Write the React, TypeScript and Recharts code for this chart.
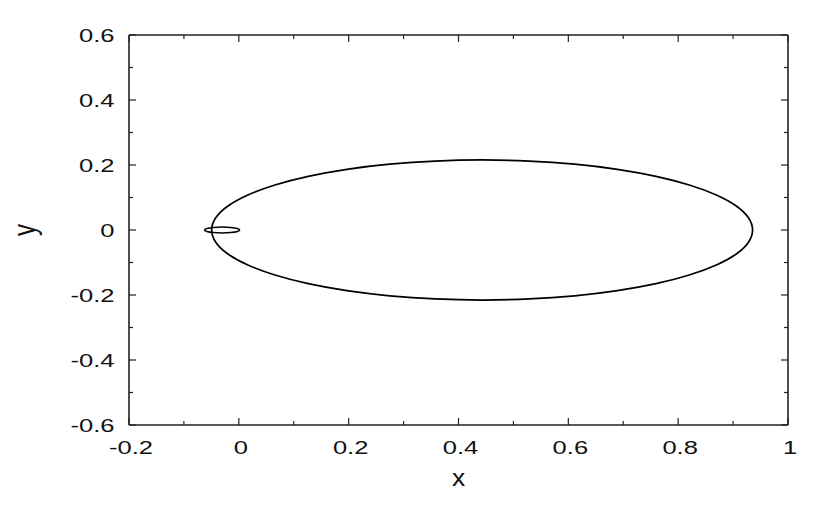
import { LineChart, Line, XAxis, YAxis } from 'recharts';

// large orbit
const orbitX = [
    0.938, 0.9305, 0.9082, 0.8717, 0.8222, 0.7612, 0.6905, 0.6123, 0.5289, 0.443, 0.3571, 0.2737,
    0.1955, 0.1248, 0.0638, 0.0143, -0.0222, -0.0445, -0.052, -0.0445, -0.0222, 0.0143, 0.0638, 0.1248,
    0.1955, 0.2737, 0.3571, 0.443, 0.5289, 0.6123, 0.6905, 0.7612, 0.8222, 0.8717, 0.9082, 0.9305,
];
const orbitY = [
    0, 0.0376, 0.0741, 0.1083, 0.1392, 0.1659, 0.1876, 0.2035, 0.2133, 0.2166, 0.2133, 0.2035,
    0.1876, 0.1659, 0.1392, 0.1083, 0.0741, 0.0376, 0, -0.0376, -0.0741, -0.1083, -0.1392, -0.1659,
    -0.1876, -0.2035, -0.2133, -0.2166, -0.2133, -0.2035, -0.1876, -0.1659, -0.1392, -0.1083, -0.0741, -0.0376,
];

// small loop near the origin
const loopX = [0.003, -0.0015, -0.0138, -0.0305, -0.0473, -0.0595, -0.064, -0.0595, -0.0473, -0.0305, -0.0138, -0.0015];
const loopY = [0, 0.0048, 0.0083, 0.0096, 0.0083, 0.0048, 0, -0.0048, -0.0083, -0.0096, -0.0083, -0.0048];

const xMajor = [-0.2, 0, 0.2, 0.4, 0.6, 0.8, 1];
const xMinor = [-0.1, 0.1, 0.3, 0.5, 0.7, 0.9];
const yMajor = [-0.6, -0.4, -0.2, 0, 0.2, 0.4, 0.6];
const yMinor = [-0.5, -0.3, -0.1, 0.1, 0.3, 0.5];

const orbit = orbitX.map((x, i) => ({ x, y: orbitY[i] }));
const loop = loopX.map((x, i) => ({ x, y: loopY[i] }));

const FONT = '"Liberation Sans", Arial, sans-serif';
const FRAME = '#222';
const MAJOR = 7;
const MINOR = 4;
const NO_TICK = 0.001; // recharts swaps a 0 tickSize for its default

const tickLen = (v: number, majors: number[]) => (majors.includes(v) ? MAJOR : MINOR);

const BottomTick = ({ x, y, payload }: any) => {
    const v = payload.value;
    const major = xMajor.includes(v);
    return (
        <g>
            <line x1={x} x2={x} y1={y} y2={y - tickLen(v, xMajor)} stroke={FRAME} strokeWidth={1.2} />
            {major && (
                <text transform={`translate(${x + 2},${y + 28.5}) scale(1.42,1)`} textAnchor="middle" fontSize={18} fontFamily={FONT} fill="#111">
                    {String(v)}
                </text>
            )}
        </g>
    );
};

const TopTick = ({ x, y, payload }: any) => (
    <line x1={x} x2={x} y1={y} y2={y + tickLen(payload.value, xMajor)} stroke={FRAME} strokeWidth={1.2} />
);

const LeftTick = ({ x, y, payload }: any) => {
    const v = payload.value;
    const major = yMajor.includes(v);
    return (
        <g>
            <line x1={x} x2={x + tickLen(v, yMajor)} y1={y} y2={y} stroke={FRAME} strokeWidth={1.2} />
            {major && (
                <text transform={`translate(${x - 14.5},${y + 6.5}) scale(1.42,1)`} textAnchor="end" fontSize={18} fontFamily={FONT} fill="#111">
                    {String(v)}
                </text>
            )}
        </g>
    );
};

const RightTick = ({ x, y, payload }: any) => (
    <line x1={x} x2={x - tickLen(payload.value, yMajor)} y1={y} y2={y} stroke={FRAME} strokeWidth={1.2} />
);

export default function App() {
    return (
        <div style={{ position: 'absolute', left: 0, top: 0, background: '#fff' }}>
            <LineChart width={830} height={507} margin={{ top: 34, right: 41, bottom: 0, left: 0 }}>
                <XAxis
                    dataKey="x"
                    type="number"
                    domain={[-0.2, 1]}
                    ticks={[...xMajor, ...xMinor]}
                    interval={0}
                    height={82}
                    tickSize={NO_TICK}
                    tickMargin={0}
                    tickLine={false}
                    tick={(p: any) => <BottomTick {...p} />}
                    axisLine={{ stroke: FRAME, strokeWidth: 1.6 }}
                    label={(p: any) => {
                        const vb = p.viewBox;
                        return (
                            <text transform={`translate(${vb.x + vb.width / 2},486) scale(1.08,1)`} textAnchor="middle" fontSize={24.5} fontFamily={FONT} fill="#111">
                                x
                            </text>
                        );
                    }}
                />
                <XAxis
                    xAxisId="top"
                    orientation="top"
                    dataKey="x"
                    type="number"
                    domain={[-0.2, 1]}
                    ticks={[...xMajor, ...xMinor]}
                    interval={0}
                    height={1}
                    tickSize={NO_TICK}
                    tickMargin={0}
                    tickLine={false}
                    tick={(p: any) => <TopTick {...p} />}
                    axisLine={{ stroke: FRAME, strokeWidth: 1.6 }}
                />
                <YAxis
                    dataKey="y"
                    type="number"
                    domain={[-0.6, 0.6]}
                    ticks={[...yMajor, ...yMinor]}
                    interval={0}
                    width={129}
                    tickSize={NO_TICK}
                    tickMargin={0}
                    tickLine={false}
                    tick={(p: any) => <LeftTick {...p} />}
                    axisLine={{ stroke: FRAME, strokeWidth: 1.6 }}
                    label={(p: any) => {
                        const vb = p.viewBox;
                        const cy = vb.y + vb.height / 2;
                        return (
                            <text transform={`translate(35,${cy}) scale(1.3,1) rotate(-90)`} textAnchor="middle" fontSize={24} fontFamily={FONT} fill="#111">
                                y
                            </text>
                        );
                    }}
                />
                <YAxis
                    yAxisId="right"
                    orientation="right"
                    dataKey="y"
                    type="number"
                    domain={[-0.6, 0.6]}
                    ticks={[...yMajor, ...yMinor]}
                    interval={0}
                    width={1}
                    tickSize={NO_TICK}
                    tickMargin={0}
                    tickLine={false}
                    tick={(p: any) => <RightTick {...p} />}
                    axisLine={{ stroke: FRAME, strokeWidth: 1.6 }}
                />
                <Line
                    data={orbit}
                    dataKey="y"
                    type="basisClosed"
                    stroke="#000"
                    strokeWidth={1.7}
                    dot={false}
                    activeDot={false}
                    isAnimationActive={false}
                />
                <Line
                    data={loop}
                    dataKey="y"
                    type="basisClosed"
                    stroke="#000"
                    strokeWidth={1.5}
                    dot={false}
                    activeDot={false}
                    isAnimationActive={false}
                />
                {/* keeps the top/right frame axes bound to the same data */}
                <Line
                    data={orbit}
                    dataKey="y"
                    xAxisId="top"
                    yAxisId="right"
                    stroke="none"
                    dot={false}
                    activeDot={false}
                    isAnimationActive={false}
                />
            </LineChart>
        </div>
    );
}
